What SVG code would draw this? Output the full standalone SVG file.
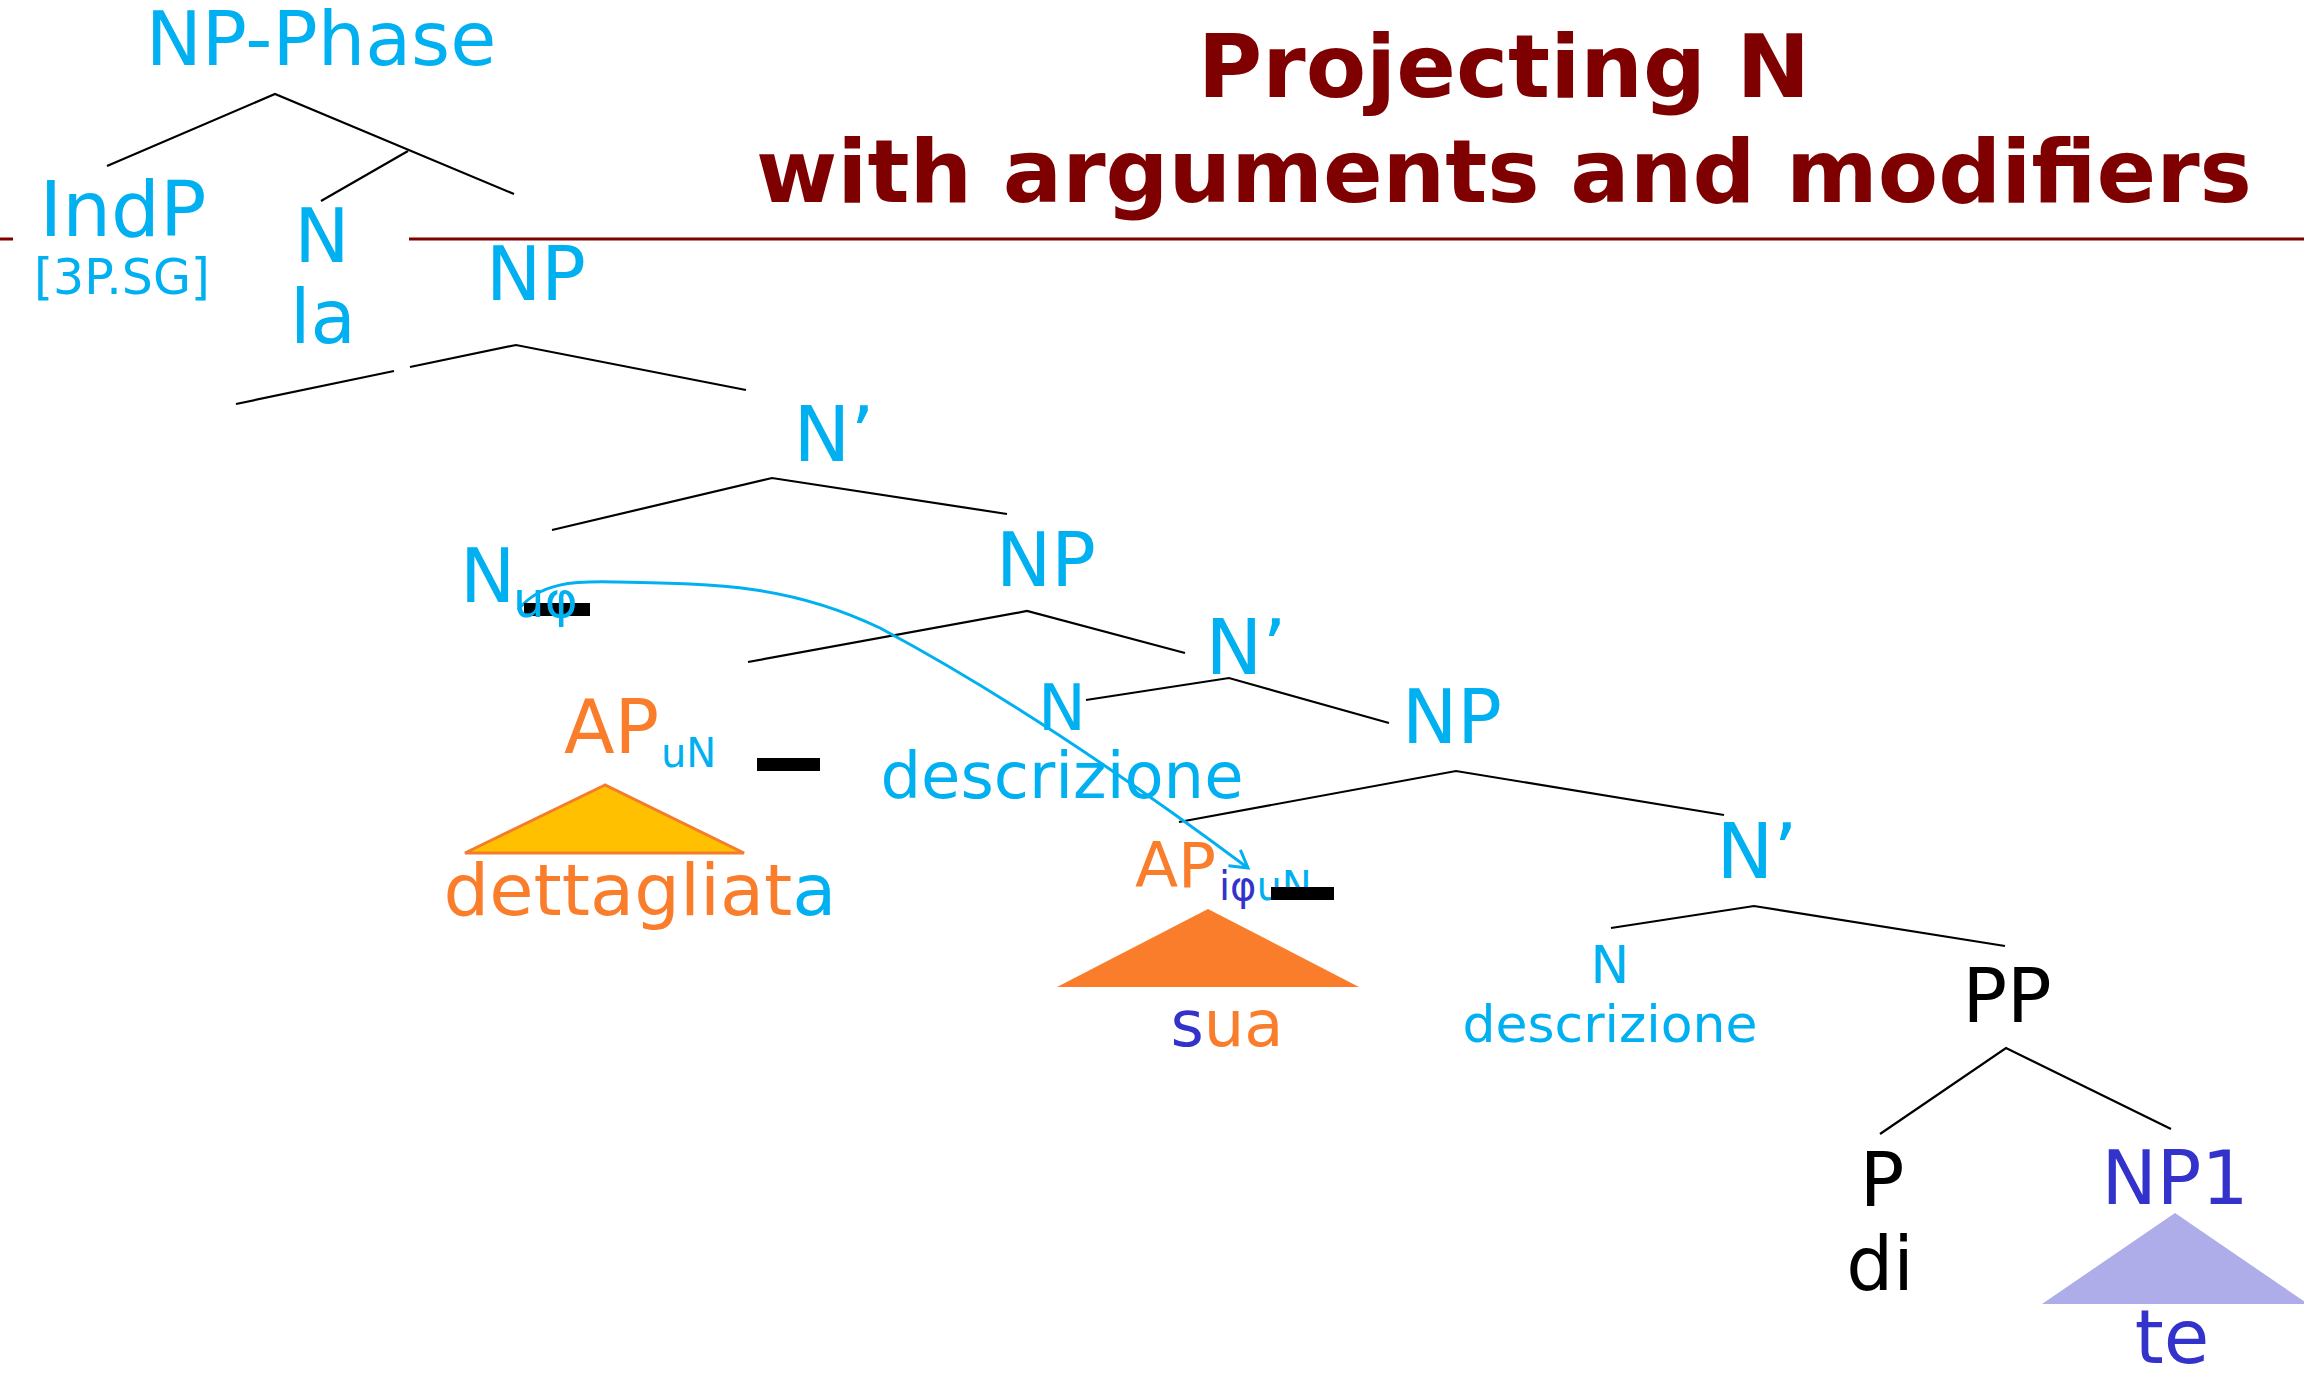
<svg xmlns="http://www.w3.org/2000/svg" width="2304" height="1376" viewBox="0 0 2304 1376">
<style>
text{font-family:"DejaVu Sans","Verdana",sans-serif;}
.t{font-family:"DejaVu Sans",sans-serif;font-weight:bold;font-size:88px;fill:#7F0000;text-anchor:middle;}
.c{fill:#00B0F0;}
.o{fill:#FA7D2B;}
.v{fill:#3333CC;}
.k{fill:#000000;}
.L{font-size:74px;}
.m{text-anchor:middle;}
.br{stroke:#000;stroke-width:2.2;fill:none;}
.bar{fill:#000;}
</style>
<defs>
<marker id="ah" viewBox="0 0 22 24" refX="19" refY="12" markerWidth="22" markerHeight="24" markerUnits="userSpaceOnUse" orient="auto">
<path d="M2,2 L19,12 L2,22" fill="none" stroke="#00B0F0" stroke-width="3"/>
</marker>
</defs>
<rect width="2304" height="1376" fill="#fff"/>

<g id="title">
<text class="t" x="1504" y="97">Projecting N</text>
<text class="t" x="1504" y="202">with arguments and modifiers</text>
<line x1="0" y1="239" x2="13" y2="239" stroke="#800000" stroke-width="3"/>
<line x1="409" y1="239" x2="2304" y2="239" stroke="#800000" stroke-width="3"/>
</g>

<g id="connectors">
<polyline class="br" points="107,166 275,94 514,194"/>
<line class="br" x1="408" y1="151" x2="321" y2="201"/>
<polyline class="br" points="236,404 394,371"/>
<polyline class="br" points="410,367 516,345 746,390"/>
<polyline class="br" points="552,530 772,478 1007,514"/>
<polyline class="br" points="748,662 1027,611 1185,653"/>
<polyline class="br" points="1086,700 1229,678 1389,723"/>
<polyline class="br" points="1179,822 1456,771 1724,815"/>
<polyline class="br" points="1611,928 1754,906 2005,946"/>
<polyline class="br" points="1880,1134 2006,1048 2171,1129"/>
<path d="M518,610 C540,582 575,581 615,582 C720,584 790,585 880,628 C1000,692 1130,780 1248,868" fill="none" stroke="#00B0F0" stroke-width="3" marker-end="url(#ah)"/>
</g>

<g id="np-phase"><text class="c m" x="321" y="65" font-size="75">NP-Phase</text></g>
<g id="indp">
<text class="c m" x="123" y="236" font-size="77">IndP</text>
<text class="c m" x="122" y="294" font-size="49">[3P.SG]</text>
</g>
<g id="n-la">
<text class="c L m" x="322" y="262">N</text>
<text class="c L m" x="323" y="343">la</text>
</g>
<g id="np-1"><text class="c L m" x="536" y="300">NP</text></g>
<g id="nbar-1"><text class="c m" x="834" y="461" font-size="76">N’</text></g>
<g id="n-uphi">
<rect class="bar" x="524" y="603" width="66" height="13"/>
<text class="c L" x="460" y="602">N</text>
<text class="c" x="513" y="617" font-size="50">uφ</text>
</g>
<g id="np-2"><text class="c L m" x="1046" y="586">NP</text></g>
<g id="ap-un">
<text class="o L" x="564" y="753">AP</text>
<text class="c" x="661" y="767" font-size="40">uN</text>
<rect class="bar" x="757" y="758" width="63" height="13"/>
<polygon points="605,785 465,853 744,853" fill="#FFC000" stroke="#F47C2C" stroke-width="3" stroke-linejoin="miter"/>
<text class="m" x="640" y="915" font-size="72"><tspan class="o">dettagliat</tspan><tspan class="c">a</tspan></text>
</g>
<g id="nbar-2"><text class="c m" x="1246" y="674" font-size="76">N’</text></g>
<g id="n-descrizione-1">
<text class="c m" x="1062" y="730" font-size="64">N</text>
<text class="c m" x="1062" y="798" font-size="64">descrizione</text>
</g>
<g id="np-3"><text class="c L m" x="1452" y="743">NP</text></g>
<g id="ap-iphiun">
<text class="o" x="1135" y="887" font-size="63">AP</text>
<text x="1219" y="900" font-size="40"><tspan class="v">iφ</tspan><tspan class="c">uN</tspan></text>
<rect class="bar" x="1271" y="887" width="63" height="13"/>
<polygon points="1208,909 1057,987 1359,987" fill="#FA7D2B"/>
<text class="m" x="1227" y="1046" font-size="64"><tspan class="v">s</tspan><tspan class="o">ua</tspan></text>
</g>
<g id="nbar-3"><text class="c m" x="1757" y="878" font-size="76">N’</text></g>
<g id="n-descrizione-2">
<text class="c m" x="1610" y="983" font-size="52">N</text>
<text class="c m" x="1610" y="1042" font-size="52">descrizione</text>
</g>
<g id="pp"><text class="k L m" x="2007" y="1022">PP</text></g>
<g id="p-di">
<text class="k L m" x="1882" y="1206">P</text>
<text class="k L m" x="1880" y="1290">di</text>
</g>
<g id="np1">
<text class="v L m" x="2175" y="1204">NP1</text>
<polygon points="2175,1213 2042,1304 2308,1304" fill="#AEADE9"/>
<text class="v L m" x="2172" y="1363">te</text>
</g>
</svg>
